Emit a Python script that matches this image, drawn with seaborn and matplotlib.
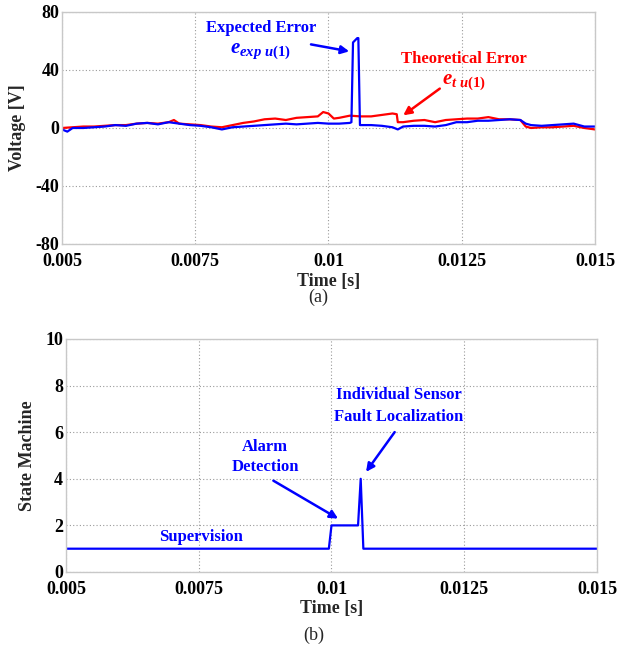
import matplotlib
matplotlib.use("Agg")
import matplotlib.pyplot as plt
import seaborn as sns
import pandas as pd

# ---------------- data ----------------
t_exp = [0.0050, 0.0051, 0.0052, 0.0054, 0.0056, 0.0058, 0.0060, 0.0062, 0.0064, 0.0066,
         0.0068, 0.0070, 0.0072, 0.0074, 0.0076, 0.0078, 0.0080, 0.0082, 0.0084, 0.0086,
         0.0088, 0.0090, 0.0092, 0.0094, 0.0096, 0.0098, 0.0100, 0.0102, 0.0104, 0.01043,
         0.01046, 0.01054, 0.01056, 0.01059, 0.0108, 0.0110, 0.0112, 0.0113, 0.0114, 0.0116,
         0.0118, 0.0120, 0.0122, 0.0124, 0.0126, 0.0128, 0.0130, 0.0132, 0.0134, 0.0136,
         0.0137, 0.0138, 0.0140, 0.0142, 0.0144, 0.0146, 0.0148, 0.0150]
v_exp = [-1.0, -2.5, 0.0, 0.0, 0.5, 1.0, 2.0, 1.5, 3.0, 3.5,
         2.5, 4.0, 3.0, 2.0, 1.5, 0.5, -1.0, 0.5, 1.0, 1.5,
         2.0, 2.5, 3.0, 2.5, 3.0, 3.5, 3.0, 3.0, 3.5, 4.0,
         59.0, 62.0, 62.0, 2.0, 2.0, 1.5, 0.5, -1.0, 1.0, 1.5,
         1.5, 1.0, 2.0, 4.0, 4.0, 5.0, 5.0, 5.5, 6.0, 5.5,
         3.0, 2.0, 1.5, 2.0, 2.5, 3.0, 1.0, 1.0]

t_th = [0.0050, 0.0052, 0.0054, 0.0056, 0.0058, 0.0060, 0.0062, 0.0064, 0.0066, 0.0068,
        0.0070, 0.0071, 0.0072, 0.0074, 0.0076, 0.0078, 0.0080, 0.0082, 0.0084, 0.0086,
        0.0088, 0.0090, 0.0092, 0.0094, 0.0096, 0.0098, 0.0099, 0.0100, 0.0101, 0.0102,
        0.0104, 0.0106, 0.0108, 0.0110, 0.0112, 0.01128, 0.0113, 0.0114, 0.0116, 0.0118,
        0.0120, 0.0122, 0.0124, 0.0126, 0.0128, 0.0130, 0.0132, 0.0134, 0.0136, 0.0137,
        0.0138, 0.0140, 0.0142, 0.0144, 0.0146, 0.0148, 0.0150]
v_th = [0.0, 0.5, 1.0, 1.0, 1.5, 2.0, 2.0, 3.0, 3.5, 3.0,
        4.0, 5.5, 3.0, 2.5, 2.0, 1.0, 0.5, 2.0, 3.5, 4.5,
        6.0, 6.5, 5.5, 7.0, 7.5, 8.0, 11.0, 10.0, 6.5, 7.0,
        8.5, 8.0, 8.0, 9.0, 10.0, 9.5, 4.0, 4.0, 5.0, 5.5,
        4.0, 5.5, 6.0, 6.5, 6.5, 7.5, 6.0, 6.0, 5.5, 1.0,
        0.0, 0.5, 0.5, 1.0, 1.5, 0.0, -1.0]

t_state = [0.0050, 0.00995, 0.01000, 0.01050, 0.01055, 0.01060, 0.0150]
v_state = [1, 1, 2, 2, 4, 1, 1]

x_ticks = [0.005, 0.0075, 0.01, 0.0125, 0.015]
x_tick_labels = ["0.005", "0.0075", "0.01", "0.0125", "0.015"]
y_ticks_a = [-80, -40, 0, 40, 80]
y_ticks_b = [0, 2, 4, 6, 8, 10]

BLUE = "#0000FF"
RED = "#FF0000"

# ---------------- style ----------------
sns.set_theme(style="white")
plt.rcParams["font.family"] = ["Liberation Serif", "DejaVu Serif"]
plt.rcParams["font.weight"] = "bold"
plt.rcParams["mathtext.fontset"] = "custom"
plt.rcParams["mathtext.rm"] = "Liberation Serif:bold"
plt.rcParams["mathtext.it"] = "Liberation Serif:italic:bold"
plt.rcParams["mathtext.bf"] = "Liberation Serif:bold"

fig = plt.figure(figsize=(6.18, 6.52), dpi=100)
ax1 = fig.add_axes([0.1003, 0.6258, 0.8625, 0.3558])
ax2 = fig.add_axes([0.1068, 0.1227, 0.8592, 0.3574])

df_exp = pd.DataFrame({"t": t_exp, "v": v_exp})
df_th = pd.DataFrame({"t": t_th, "v": v_th})
df_st = pd.DataFrame({"t": t_state, "v": v_state})

sns.lineplot(data=df_th, x="t", y="v", ax=ax1, color=RED, lw=1.6, estimator=None, sort=False)
sns.lineplot(data=df_exp, x="t", y="v", ax=ax1, color=BLUE, lw=1.6, estimator=None, sort=False)
sns.lineplot(data=df_st, x="t", y="v", ax=ax2, color=BLUE, lw=1.6, estimator=None, sort=False)

def style_axes(ax, yticks):
    ax.set_xlim(0.005, 0.015)
    ax.set_ylim(yticks[0], yticks[-1])
    ax.set_xticks(x_ticks)
    ax.set_xticklabels(x_tick_labels)
    ax.set_yticks(yticks)
    ax.set_yticklabels([str(v) for v in yticks])
    ax.grid(True, linestyle=(0, (1, 2)), color="#9a9a9a", lw=0.8)
    for s in ax.spines.values():
        s.set_color("#c8c8c8")
        s.set_linewidth(1.0)
    ax.tick_params(axis="y", length=0, pad=2, labelsize=13, colors="black")
    ax.tick_params(axis="x", length=0, pad=6.5, labelsize=13, colors="black")
    for lab in ax.get_xticklabels() + ax.get_yticklabels():
        lab.set_fontweight("bold")
    ax.set_xlabel("Time [s]", fontsize=13, fontweight="bold")

style_axes(ax1, y_ticks_a)
style_axes(ax2, y_ticks_b)
ax1.set_ylabel("Voltage [V]", fontsize=13, fontweight="bold")
ax2.set_ylabel("State Machine", fontsize=13, fontweight="bold")
ax1.yaxis.set_label_coords(-0.068, 0.5)
ax2.yaxis.set_label_coords(-0.057, 0.5)
ax1.xaxis.set_label_coords(0.5, -0.125)
ax2.xaxis.set_label_coords(0.5, -0.12)

# ---------------- annotations (a) ----------------
ax1.text(0.00873, 69, "Expected Error", color=BLUE, fontsize=12, fontweight="bold",
         ha="center", va="center")
ax1.text(0.00873, 53, r"$e_{exp\ u(1)}$", color=BLUE, fontsize=15, ha="center", va="center")
ax1.annotate("", xy=(0.01044, 52.5), xytext=(0.00962, 58),
             arrowprops=dict(arrowstyle="-|>", color=BLUE, lw=1.8, mutation_scale=12))

ax1.text(0.01254, 47.5, "Theoretical Error", color=RED, fontsize=12, fontweight="bold",
         ha="center", va="center")
ax1.text(0.01254, 32, r"$e_{t\ u(1)}$", color=RED, fontsize=15, ha="center", va="center")
ax1.annotate("", xy=(0.01136, 7.6), xytext=(0.01213, 28.3),
             arrowprops=dict(arrowstyle="-|>", color=RED, lw=1.8, mutation_scale=12))

# ---------------- annotations (b) ----------------
ax2.text(0.01127, 7.6, "Individual Sensor", color=BLUE, fontsize=12, fontweight="bold",
         ha="center", va="center")
ax2.text(0.01127, 6.67, "Fault Localization", color=BLUE, fontsize=12, fontweight="bold",
         ha="center", va="center")
ax2.annotate("", xy=(0.01062, 4.2), xytext=(0.01122, 6.1),
             arrowprops=dict(arrowstyle="-|>", color=BLUE, lw=1.8, mutation_scale=12))

ax2.text(0.00875, 5.38, "Alarm", color=BLUE, fontsize=12, fontweight="bold",
         ha="center", va="center")
ax2.text(0.00875, 4.49, "Detection", color=BLUE, fontsize=12, fontweight="bold",
         ha="center", va="center")
ax2.annotate("", xy=(0.01017, 2.23), xytext=(0.00886, 3.98),
             arrowprops=dict(arrowstyle="-|>", color=BLUE, lw=1.8, mutation_scale=12))

ax2.text(0.00754, 1.49, "Supervision", color=BLUE, fontsize=12, fontweight="bold",
         ha="center", va="center")

fig.text(0.515, 1 - 297 / 652, "(a)", fontsize=13, fontweight="normal", ha="center", va="center")
fig.text(0.508, 1 - 635 / 652, "(b)", fontsize=13, fontweight="normal", ha="center", va="center")

fig.savefig("out.png", dpi=100)
